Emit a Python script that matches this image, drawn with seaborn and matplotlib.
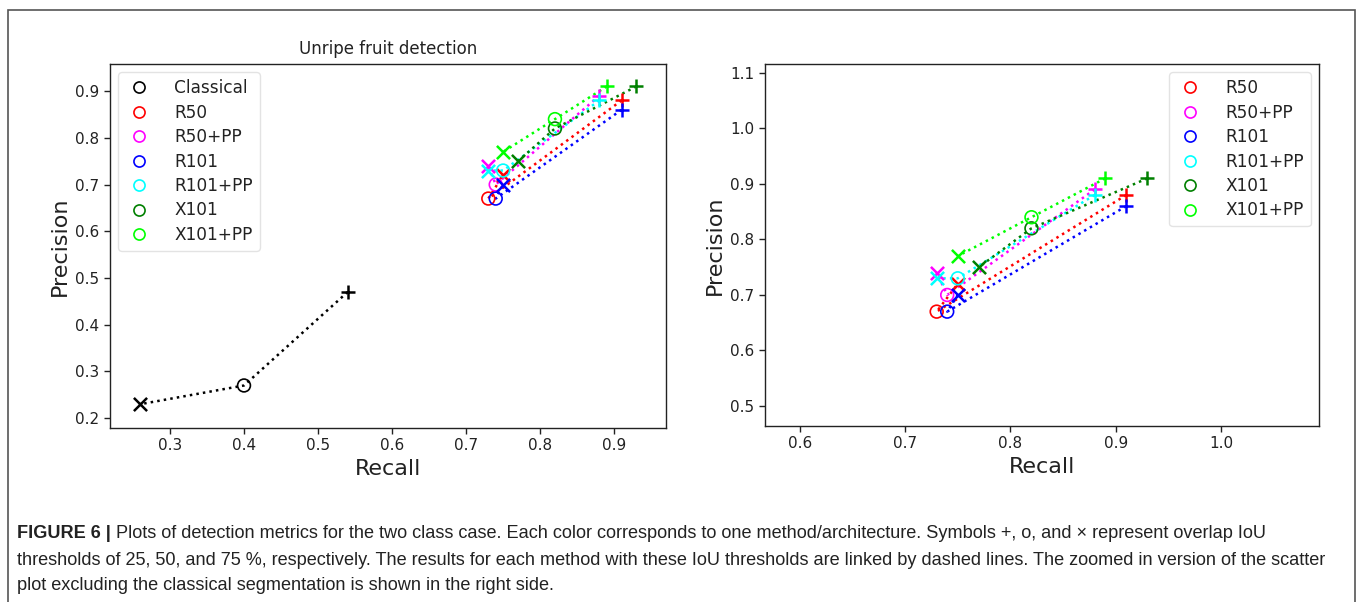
import matplotlib
matplotlib.use("Agg")
import matplotlib.pyplot as plt
from matplotlib import font_manager
from matplotlib.patches import Rectangle
import seaborn as sns
import pandas as pd

# ---------------- data ----------------
methods = ["Classical", "R50", "R50+PP", "R101", "R101+PP", "X101", "X101+PP"]
colors = ["black", "red", "magenta", "blue", "cyan", "green", "lime"]
recall_25 = [0.54, 0.91, 0.88, 0.91, 0.88, 0.93, 0.89]
precision_25 = [0.47, 0.88, 0.89, 0.86, 0.88, 0.91, 0.91]
recall_50 = [0.40, 0.73, 0.74, 0.74, 0.75, 0.82, 0.82]
precision_50 = [0.27, 0.67, 0.70, 0.67, 0.73, 0.82, 0.84]
recall_75 = [0.26, 0.75, 0.73, 0.75, 0.73, 0.77, 0.75]
precision_75 = [0.23, 0.72, 0.74, 0.70, 0.73, 0.75, 0.77]
iou_labels = ["25", "50", "75"]
iou_markers = ["+", "o", "x"]

left_xticks = [0.3, 0.4, 0.5, 0.6, 0.7, 0.8, 0.9]
left_yticks = [0.2, 0.3, 0.4, 0.5, 0.6, 0.7, 0.8, 0.9]
right_xticks = [0.6, 0.7, 0.8, 0.9, 1.0]
right_yticks = [0.5, 0.6, 0.7, 0.8, 0.9, 1.0, 1.1]

title_left = "Unripe fruit detection"
xlabel = "Recall"
ylabel = "Precision"
caption_bold = "FIGURE 6 |"
caption_lines = [
    " Plots of detection metrics for the two class case. Each color corresponds to one method/architecture. Symbols +, o, and \u00d7 represent overlap IoU",
    "thresholds of 25, 50, and 75 %, respectively. The results for each method with these IoU thresholds are linked by dashed lines. The zoomed in version of the scatter",
    "plot excluding the classical segmentation is shown in the right side.",
]

rows = []
for i, m in enumerate(methods):
    for k, (r, p) in enumerate([(recall_25[i], precision_25[i]),
                                (recall_50[i], precision_50[i]),
                                (recall_75[i], precision_75[i])]):
        rows.append({"method": m, "iou": iou_labels[k], "order": k, "recall": r, "precision": p})
df = pd.DataFrame(rows)

# ---------------- style ----------------
sns.set_style("white")
plt.rcParams["font.family"] = ["DejaVu Sans"]
plt.rcParams["axes.edgecolor"] = "#222222"
plt.rcParams["axes.linewidth"] = 1.0
plt.rcParams["xtick.bottom"] = True
plt.rcParams["ytick.left"] = True

W, H = 1358, 602
fig = plt.figure(figsize=(W / 100, H / 100), dpi=100)
fig.patch.set_facecolor("white")

ax1 = fig.add_axes([110 / W, 1 - 428 / H, 556 / W, 364 / H])
ax2 = fig.add_axes([765 / W, 1 - 426 / H, 554 / W, 362 / H])


def draw(ax, include):
    for i, m in enumerate(methods):
        if m not in include:
            continue
        sub = df[df["method"] == m].sort_values("order")
        c = colors[i]
        sns.lineplot(data=sub, x="recall", y="precision", sort=False, ax=ax,
                     color=c, linestyle=":", linewidth=1.8, estimator=None,
                     legend=False)
        for k, mk in enumerate(iou_markers):
            pt = sub[sub["iou"] == iou_labels[k]]
            if mk == "o":
                sns.scatterplot(data=pt, x="recall", y="precision", ax=ax,
                                marker="o", s=85, facecolors="none",
                                edgecolor=c, linewidth=1.2, zorder=3,
                                legend=False)
            else:
                sns.scatterplot(data=pt, x="recall", y="precision", ax=ax,
                                marker=mk, s=90, color=c, linewidth=1.8,
                                zorder=3, legend=False)
    handles = []
    for i, m in enumerate(methods):
        if m in include:
            h, = ax.plot([], [], linestyle="none", marker="o", markersize=8,
                         markerfacecolor="none", markeredgecolor=colors[i],
                         markeredgewidth=1.2, label=m)
            handles.append(h)
    return handles


h1 = draw(ax1, methods)
h2 = draw(ax2, methods[1:])

ax1.set_xlim(0.219, 0.970)
ax1.set_ylim(0.179, 0.958)
ax1.set_xticks(left_xticks)
ax1.set_yticks(left_yticks)
ax2.set_xlim(0.567, 1.093)
ax2.set_ylim(0.464, 1.116)
ax2.set_xticks(right_xticks)
ax2.set_yticks(right_yticks)

for ax in (ax1, ax2):
    ax.set_xticklabels([f"{v:.1f}" for v in ax.get_xticks()])
    ax.set_yticklabels([f"{v:.1f}" for v in ax.get_yticks()])
    ax.tick_params(axis="both", labelsize=11, length=4, width=1,
                   color="#222222", labelcolor="#222222", direction="out")
    ax.set_xlabel(xlabel, fontsize=16, color="#222222", labelpad=4)
    ax.set_ylabel(ylabel, fontsize=16, color="#222222", labelpad=4)
    for s in ax.spines.values():
        s.set_visible(True)
        s.set_color("#222222")

ax1.set_title(title_left, fontsize=12, color="#222222", pad=7)

leg_kw = dict(fontsize=12.2, frameon=True, handletextpad=1.3,
              labelspacing=0.38, borderpad=0.4, handlelength=1.6,
              borderaxespad=0.5)
leg1 = ax1.legend(handles=h1, loc="upper left", **leg_kw)
leg2 = ax2.legend(handles=h2, loc="upper right", **leg_kw)
for lg in (leg1, leg2):
    lg.get_frame().set_edgecolor("#dddddd")
    lg.get_frame().set_linewidth(1.0)
    for t in lg.get_texts():
        t.set_color("#222222")

# ---------------- outer frame ----------------
frame = Rectangle((8 / W, -0.05), (1355 - 8) / W, 1 - 10 / H + 0.05,
                  transform=fig.transFigure, fill=False,
                  edgecolor="#555555", linewidth=1.2)
fig.add_artist(frame)

# ---------------- caption ----------------
avail = {f.name for f in font_manager.fontManager.ttflist}
cap_family = ["Liberation Sans Narrow"] if "Liberation Sans Narrow" in avail else ["Liberation Sans"]
cap_family = cap_family + ["DejaVu Sans"]

fig.canvas.draw()
renderer = fig.canvas.get_renderer()
probe = fig.text(0, 0, caption_lines[1], fontsize=12, family=cap_family)
wprobe = probe.get_window_extent(renderer).width
probe.remove()
cap_size = 12 * (1330 - 17) / wprobe

x0 = 17 / W
baselines = [538, 565, 590]
tb = fig.text(x0, 1 - baselines[0] / H, caption_bold, fontsize=cap_size,
              family=cap_family, weight="bold", color="#222222", va="baseline")
bb = tb.get_window_extent(renderer)
fig.text(bb.x1 / W, 1 - baselines[0] / H, caption_lines[0], fontsize=cap_size,
         family=cap_family, color="#222222", va="baseline")
fig.text(x0, 1 - baselines[1] / H, caption_lines[1], fontsize=cap_size,
         family=cap_family, color="#222222", va="baseline")
fig.text(x0, 1 - baselines[2] / H, caption_lines[2], fontsize=cap_size,
         family=cap_family, color="#222222", va="baseline")

fig.savefig("out.png", dpi=100, facecolor="white")
